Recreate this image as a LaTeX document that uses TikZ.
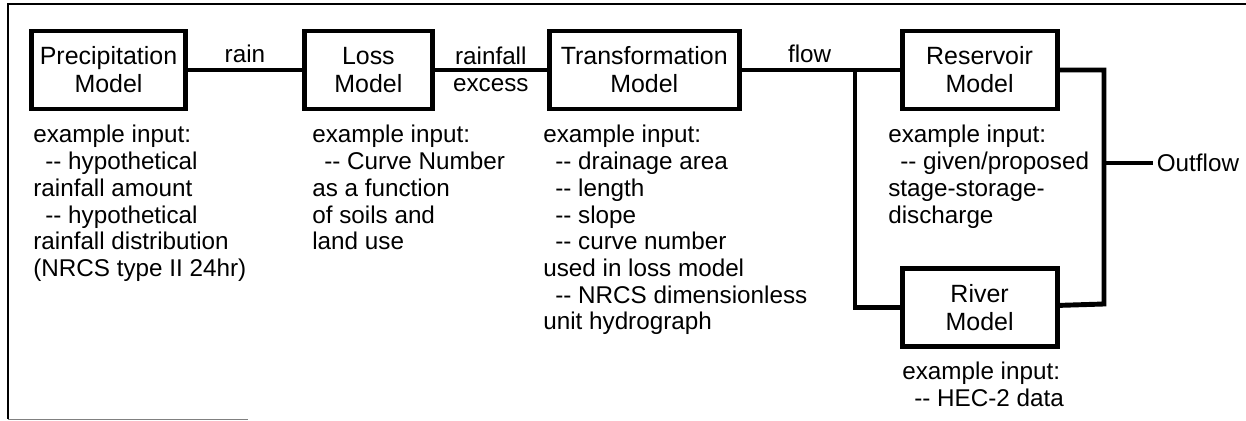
\documentclass[tikz,border=0pt]{standalone}
\usepackage{fontspec}
\setmainfont{Liberation Sans}
\usetikzlibrary{positioning}
\tikzset{
	model/.style={draw, line width=2.8pt, align=center, inner sep=0pt,
		minimum height=1.56cm, font=\fontsize{14.2}{15.9}\selectfont},
	link/.style={line width=2.8pt},
	input/.style={anchor=north west, align=left, inner sep=0pt}
}
\newcommand{\ind}{\hspace*{0.24cm}-{}- }

\begin{document}
\begin{tikzpicture}[x=0.02cm,y=-0.02cm]
		\tikzstyle{every node}=[font=\fontsize{13.8}{15.2}\selectfont]
		\useasboundingbox (0,0) rectangle (1246,421);

		% Draw frame (open on the right)
		\draw[line width=1.5pt] (1246,4) -- (8,4) -- (8,419);
		\draw[gray, line width=0.8pt] (8,419.5) -- (248,419.5);

		% Draw the model boxes
		\node[model, minimum width=3.08cm] (precip) at (108.5,70) {Precipitation\\Model};
		\node[model, minimum width=2.56cm, right=2.28cm of precip] (loss) {Loss\\Model};
		\node[model, minimum width=3.80cm, right=2.24cm of loss] (trans) {Transformation\\Model};
		\node[model, minimum width=3.10cm, right=3.16cm of trans] (res) {Reservoir\\Model};
		\node[model, minimum width=3.10cm, below=3.1cm of res] (river) {River\\Model};

		\coordinate (split) at (855,70);
		\coordinate (join) at (1104,304);
		\coordinate (tap) at (1104,163);
		\node[anchor=west, inner sep=2pt] (outflow) at (1153,163) {Outflow};

		% -----------------------------------------------------

		\draw[link] (precip) -- node[above, inner sep=3pt] {rain} (loss);
		\draw[link] (loss) -- node[above, inner sep=1.5pt] {rainfall}
			node[below] {excess} (trans);
		\draw[link] (trans) -- node[pos=0.6, above, inner sep=3pt] {flow} (split) -- (res);
		\draw[link] (split) |- (river);
		\draw[link] (res) -| (join) -- (river);
		\draw[link] (tap) -- (outflow);

		% -----------------------------------------------------
		% example inputs under each box
		\node[input] (precipin) at (33,125) {example input:\\
			\ind hypothetical\\
			rainfall amount\\
			\ind hypothetical\\
			rainfall distribution\\
			(NRCS type II 24hr)};
		\node[input] (lossin) at (312,125) {example input:\\
			\ind Curve Number\\
			as a function\\
			of soils and\\
			land use};
		\node[input] (transin) at (543,125) {example input:\\
			\ind drainage area\\
			\ind length\\
			\ind slope\\
			\ind curve number\\
			used in loss model\\
			\ind NRCS dimensionless\\
			unit hydrograph};
		\node[input] (resin) at (888,125) {example input:\\
			\ind given/proposed\\
			stage-storage-\\
			discharge};
		\node[input] (riverin) at (902,362) {example input:\\
			\ind HEC-2 data};

		\end{tikzpicture}
\end{document}
